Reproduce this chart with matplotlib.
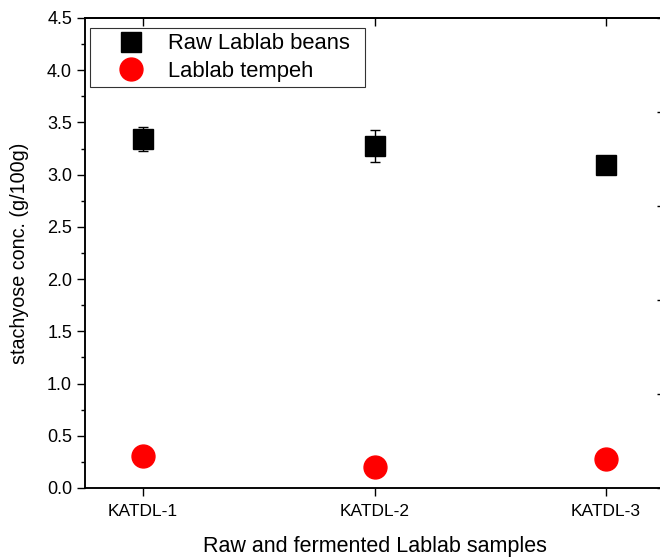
import matplotlib

matplotlib.use("Agg")

import matplotlib.pyplot as plt
import numpy as np
from matplotlib.lines import Line2D
from matplotlib.ticker import FormatStrFormatter, MultipleLocator

plt.rcParams["font.family"] = ["Liberation Sans", "DejaVu Sans"]

samples = ["KATDL-1", "KATDL-2", "KATDL-3"]
raw_beans = [3.34, 3.275, 3.09]
raw_err = [0.115, 0.155, 0.02]
tempeh = [0.31, 0.205, 0.275]

x = np.arange(1, len(samples) + 1)

fig = plt.figure(figsize=(6.6, 5.58), dpi=100)
ax = fig.add_axes([85 / 660, 70 / 558, 579 / 660, 470 / 558])

ax.errorbar(x, raw_beans, yerr=raw_err, fmt="s", color="black", markersize=14.4,
            ecolor="black", elinewidth=1.0, capsize=3.3, capthick=1.0, zorder=3)
ax.plot(x, tempeh, "o", color="red", markersize=16.5, zorder=3)

ax.set_xlim(0.75, 3.25)
ax.set_ylim(0, 4.5)
ax.set_xticks(x)
ax.set_xticklabels(samples)
ax.yaxis.set_major_locator(MultipleLocator(0.5))
ax.yaxis.set_minor_locator(MultipleLocator(0.25))
ax.yaxis.set_major_formatter(FormatStrFormatter("%.1f"))

for spine in ax.spines.values():
    spine.set_linewidth(1.1)

ax.tick_params(axis="both", which="major", labelsize=12.5, length=5.8, width=1.0, direction="out")
ax.tick_params(axis="y", which="minor", length=3, width=1.0, direction="out")
ax.tick_params(axis="x", which="major", pad=6)
ax.tick_params(axis="y", labelsize=13)

# top ticks point inward, no labels
top = ax.secondary_xaxis("top")
top.set_xticks(x)
top.tick_params(axis="x", direction="in", length=5.8, width=1.0, labeltop=False)
top.spines["top"].set_linewidth(1.1)

ax.set_xlabel("Raw and fermented Lablab samples", fontsize=15.5, labelpad=12)
ax.set_ylabel("stachyose conc. (g/100g)", fontsize=14.2, labelpad=13)

# right axis, own scale, ticks inward
ax2 = ax.twinx()
ax2.set_ylim(0, 5)
ax2.yaxis.set_major_locator(MultipleLocator(1))
ax2.yaxis.set_minor_locator(MultipleLocator(0.5))
ax2.tick_params(axis="y", which="major", direction="in", length=5, width=1.0, labelright=False)
ax2.tick_params(axis="y", which="minor", direction="in", length=2.5, width=1.0)
for spine in ax2.spines.values():
    spine.set_linewidth(1.1)
ax.set_zorder(ax2.get_zorder() + 1)
ax.patch.set_visible(False)

handles = [
    Line2D([], [], marker="s", linestyle="none", color="black", markersize=14.4),
    Line2D([], [], marker="o", linestyle="none", color="red", markersize=16.5),
]
labels = ["Raw Lablab beans", "Lablab tempeh"]
leg = ax.legend(handles, labels, loc="upper left",
                bbox_to_anchor=(0.0086, 0.855, 0.475, 0.124), mode="expand",
                borderaxespad=0, fontsize=15.8, frameon=True, fancybox=False,
                edgecolor="black", handlelength=3.2, handletextpad=0.1,
                labelspacing=0.28, borderpad=0.25)
leg.get_frame().set_linewidth(0.8)

fig.savefig("out.png", dpi=100, facecolor="white")
